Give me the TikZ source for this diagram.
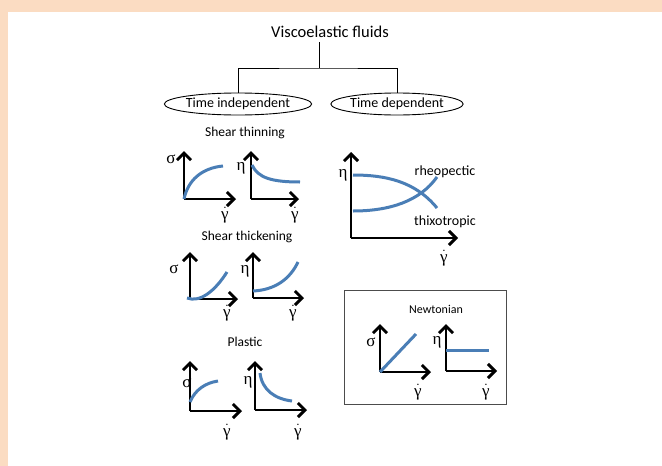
\documentclass[tikz,border=0pt]{standalone}
\usepackage{fontspec}
\setmainfont{Carlito}
\newfontfamily\grk{Liberation Serif}
\usetikzlibrary{arrows.meta,shapes.geometric}
\definecolor{peach}{HTML}{FBDCC2}
\definecolor{curveblue}{HTML}{4A7EB6}
\newcommand{\gdot}{$\dot{\mbox{\grk γ}}$}
\begin{document}
\begin{tikzpicture}[x=1pt,y=-1pt,
  axis/.style={line width=1.8pt,-{Straight Barb[length=7pt,width=14pt,line width=3pt]}},
  crv/.style={curveblue,line width=3pt},
  lab/.style={font=\fontsize{13.5}{15}\selectfont,inner sep=0pt},
  sym/.style={font=\grk\fontsize{17}{18}\selectfont,inner sep=0pt},
  oval/.style={draw,ellipse,line width=0.9pt,inner sep=0pt,minimum width=#1,minimum height=22pt,font=\fontsize{14}{15}\selectfont},
  conn/.style={line width=0.9pt}]
\useasboundingbox (0,0) rectangle (662,466);
\fill[white] (0,0) rectangle (662,466);
\fill[peach] (0,0) rectangle (662,12);
\fill[peach] (0,0) rectangle (8,466);

% tree
\node[font=\fontsize{16.5}{18}\selectfont,inner sep=0pt] (title) at (330,32) {Viscoelastic fluids};
\node[oval=118pt] (ti) at (238,104) {Time independent};
\node[oval=110pt] (td) at (397,104) {Time dependent};
\coordinate (jn) at (319,68);
\draw[conn] (jn |- 0,42) -- (jn);
\draw[conn] (ti.north) |- (jn) -| (td.north);

% section labels
\node[lab] (st) at (245,133) {Shear thinning};
\node[lab] (sk) at (247,237) {Shear thickening};
\node[lab] (pl) at (245,342) {Plastic};

% graph 1
\coordinate (o1) at (184,199);
\draw[axis] (o1) -- (184,151);
\draw[axis] (o1) -- (236,199);
\draw[crv] (o1) .. controls (188,180) and (202,168) .. (223,166);
\node[sym] (s1) at (171,159) {σ};
\node[sym] (g1) at (225,215) {\gdot};
% graph 2
\coordinate (o2) at (251,199);
\draw[axis] (o2) -- (251,151);
\draw[axis] (o2) -- (299,199);
\draw[crv] (252,165) .. controls (258,178) and (272,182) .. (300,182);
\node[sym] (e2) at (241,168) {η};
\node[sym] (g2) at (295,215) {\gdot};

% graph 3
\coordinate (o3) at (190,299);
\draw[axis] (o3) -- (190,252);
\draw[axis] (o3) -- (238,299);
\draw[crv] (187,298) .. controls (200,303) and (215,291) .. (227,272);
\node[sym] (s3) at (174,269) {σ};
\node[sym] (g3) at (227,313) {\gdot};
% graph 4
\coordinate (o4) at (253,298);
\draw[axis] (o4) -- (253,252);
\draw[axis] (o4) -- (304,298);
\draw[crv] (253,291) .. controls (275,290) and (290,279) .. (298,262);
\node[sym] (e4) at (245,271) {η};
\node[sym] (g4) at (293,313) {\gdot};

% graph 5
\coordinate (o5) at (190,411);
\draw[axis] (o5) -- (190,361);
\draw[axis] (o5) -- (242,411);
\draw[crv] (190,402) .. controls (195,390) and (205,383) .. (218,381);
\node[sym] (s5) at (187,383) {σ};
\node[sym] (g5) at (227,432) {\gdot};
% graph 6
\coordinate (o6) at (255,410);
\draw[axis] (o6) -- (255,361);
\draw[axis] (o6) -- (307,410);
\draw[crv] (260,373) .. controls (262,390) and (275,399) .. (292,401);
\node[sym] (e6) at (248,382) {η};
\node[sym] (g6) at (298,432) {\gdot};

% graph 7 time dependent
\coordinate (o7) at (351,238);
\draw[axis] (o7) -- (351,152);
\draw[axis] (o7) -- (458,238);
\draw[crv] (353,175) .. controls (385,175) and (415,181) .. (437,208);
\draw[crv] (353,211) .. controls (390,211) and (420,201) .. (437,177);
\node[sym] (e7) at (343,175) {η};
\node[lab,font=\fontsize{14}{15}\selectfont] (rh) at (445,172) {rheopectic};
\node[lab,font=\fontsize{14}{15}\selectfont] (th) at (445,222) {thixotropic};
\node[sym] (g7) at (444,258) {\gdot};

% Newtonian box
\draw[line width=0.8pt,draw=black!70] (344,290) rectangle (506,404);
\node[lab,font=\fontsize{12}{13}\selectfont] (nw) at (436,309) {Newtonian};
\coordinate (o8) at (380,372);
\draw[axis] (o8) -- (380,324);
\draw[axis] (o8) -- (431,372);
\draw[crv] (380,372) -- (416,334);
\node[sym] (s8) at (371,342) {σ};
\node[sym] (g8) at (418,392) {\gdot};
\coordinate (o9) at (446,371);
\draw[axis] (o9) -- (446,324);
\draw[axis] (o9) -- (497,371);
\draw[crv] (446,350) -- (489,350);
\node[sym] (e9) at (437,342) {η};
\node[sym] (g9) at (486,392) {\gdot};
\end{tikzpicture}
\end{document}
